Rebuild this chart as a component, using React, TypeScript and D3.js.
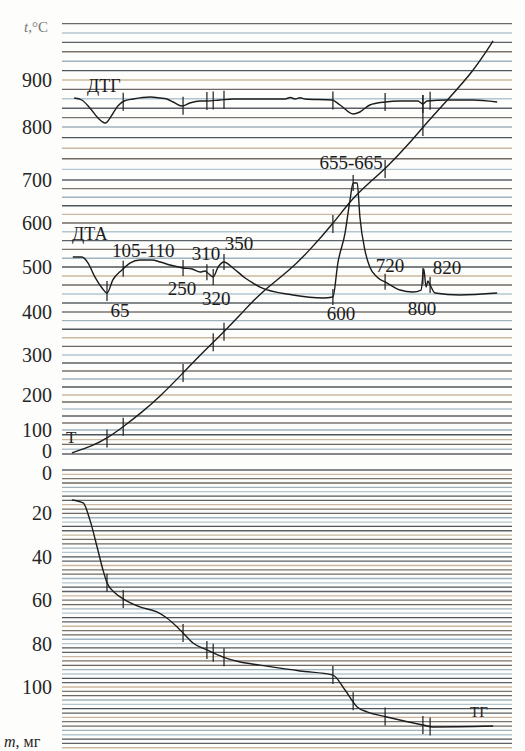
import React, { useEffect, useRef } from 'react';
import * as d3 from 'd3';

// axis ticks
const tempTicks = [0, 100, 200, 300, 400, 500, 600, 700, 800, 900];
const massTicks = [0, 20, 40, 60, 80, 100];

// thermal events (°C) and the time (min) where they are marked
const eventLabels = ['65', '105-110', '250', '310', '320', '350', '600', '655-665', '720', '800', '820'];
const eventTimes = [10, 13.6, 26.9, 32.2, 33.6, 36, 60.2, 64.7, 71.8, 80.2, 81.8];

// T curve: temperature vs time
const tTime = [2.2, 6.9, 10, 13.6, 17.5, 21.5, 26.9, 30.7, 35.8, 39.6, 44, 50.7, 55.1, 60.2, 64.4, 68.4, 72.2, 77.3, 80.2, 85.6, 91.3, 95.8];
const tTemp = [5, 35, 65, 109, 148, 192, 255, 300, 352, 393, 442, 493, 539, 598, 656, 695, 724, 770, 800, 857, 917, 983];

// DTA curve (arbitrary units)
const dtaTime = [2.4, 4.4, 5.8, 7.3, 8.9, 10, 11.3, 13.3, 15.1, 17.3, 20, 21.8, 24, 26.9, 28.9, 30.7, 31.8, 32.4, 33.6, 34.7, 36, 38, 40.7, 42.4, 44, 51.3, 58, 60.2, 61.3, 62.9, 64, 64.7, 65.6, 66.2, 67.3, 68.4, 70, 72.2, 75.1, 78, 79.8, 80.4, 80.9, 81.3, 81.8, 82.9, 88.4, 96.7];
const dtaVal = [35.8, 35.8, 30.8, 19.2, 10, 5.8, 16.7, 25, 30.8, 33.3, 33.3, 31.7, 29.2, 26.7, 25.8, 23.3, 24.2, 22.5, 19.2, 27.5, 31.7, 26.7, 18.3, 14.2, 10.8, 4.2, 1.7, 2.5, 30.8, 55.8, 83.3, 97.5, 97.5, 69.2, 41.7, 27.5, 19.2, 14.2, 8.3, 6.7, 8.3, 25.8, 10.8, 15.8, 12.5, 5.8, 4.2, 5.8];

// DTG curve (arbitrary units, downward = mass loss rate)
const dtgTime = [2.7, 4.4, 6.2, 8, 9.6, 11.1, 12.4, 13.8, 15.8, 19.6, 21.8, 23.3, 24.7, 26.7, 28.4, 30.7, 32.2, 35.1, 38, 44, 49.6, 50.7, 51.8, 52.9, 54, 60, 61.8, 64.7, 66.2, 68.4, 71.8, 75.1, 79.1, 80.2, 81.1, 85.6, 91.3, 96.7];
const dtgVal = [-0.8, 0, 3.2, 7.2, 9.2, 6, 2.4, 0.4, -0.4, -1.2, -0.8, -0.4, 0.8, 2.4, 1.2, 0.4, 0.4, 0, -0.4, -0.4, -0.4, -1, -0.4, -0.9, -0.4, 0, 2, 5.6, 4.8, 2, 0.8, 0.4, 0.4, 1.6, 0.4, 0, 0, 0.8];

// TG curve: mass loss (mg) vs time
const tgTime = [2.2, 4.7, 6.2, 7.8, 9.1, 10, 11.8, 13.6, 17.3, 21.1, 23.3, 25.6, 26.9, 29.1, 32.2, 35.8, 39.6, 44, 52.9, 60.2, 62.9, 65.6, 67.8, 72.2, 80.2, 82.4, 95.8];
const tgMass = [13.8, 15.2, 23, 35.5, 46, 52, 56.7, 59.4, 63.1, 65.4, 68.2, 72.4, 75.1, 79.7, 82.9, 86.2, 88.5, 89.9, 92.6, 94.5, 101.4, 109.2, 111.5, 113.8, 117.5, 118.4, 118];

// which events are ticked on which curve
const tEvents = [0, 1, 2, 4, 5, 6, 8, 9];
const dtaEvents = [0, 1, 2, 3, 4, 5, 6, 7, 8, 9, 10];
const dtgEvents = [1, 2, 3, 4, 5, 6, 8, 9, 10];
const tgEvents = [0, 1, 2, 3, 4, 5, 6, 7, 8, 9, 10];

const App = () => {
  const svgRef = useRef<SVGSVGElement>(null);

  useEffect(() => {
    const svg = d3.select(svgRef.current);
    svg.selectAll('*').remove();

    const width = 525;
    const height = 751;
    const left = 62;
    const right = 512;
    const font = "'Liberation Serif', Tinos, 'Times New Roman', 'DejaVu Serif', serif";
    const ink = '#1c1c1c';

    svg.attr('width', width).attr('height', height);
    svg.append('rect').attr('width', width).attr('height', height).attr('fill', '#fdfdfc');

    const x = d3.scaleLinear().domain([0, 100]).range([left, right]);
    const yT = d3.scaleLinear().domain(tempTicks).range([454, 430, 395, 355, 312, 267, 223, 180, 127, 80]);
    const yM = d3.scaleLinear().domain([0, 100]).range([470, 687]);
    const yDta = d3.scaleLinear().domain([0, 100]).range([300, 180]);
    const yDtg = d3.scaleLinear().domain([0, 10]).range([100, 125]);

    // chart paper lines
    const paper = ['#5c6166', '#b3c6d0', '#6e6862', '#cdb89f', '#4f565b', '#9fb3bf', '#7a746c'];
    const grid = svg.append('g');
    d3.range(0, 1021, 20).forEach((v, i) => {
      grid.append('line')
        .attr('x1', left).attr('x2', right)
        .attr('y1', yT(v)).attr('y2', yT(v))
        .attr('stroke', paper[i % paper.length])
        .attr('stroke-width', 1.4);
    });
    d3.range(0, 129, 2).forEach((v, i) => {
      grid.append('line')
        .attr('x1', left).attr('x2', right)
        .attr('y1', yM(v)).attr('y2', yM(v))
        .attr('stroke', paper[(i * 3) % paper.length])
        .attr('stroke-width', 1.3);
    });

    // axis labels
    const axis = svg.append('g').style('font-family', font).attr('fill', '#262626');
    tempTicks.forEach(v => {
      axis.append('text').attr('x', 52).attr('y', yT(v) + (v === 0 ? 4 : 7))
        .attr('text-anchor', 'end').attr('font-size', 20).text(v);
    });
    massTicks.forEach(v => {
      axis.append('text').attr('x', 52).attr('y', yM(v) + (v === 0 ? 10 : 7))
        .attr('text-anchor', 'end').attr('font-size', 20).text(v);
    });
    const tUnit = axis.append('text').attr('x', 48).attr('y', 32)
      .attr('text-anchor', 'end').attr('font-size', 15).attr('fill', '#777');
    tUnit.append('tspan').attr('font-style', 'italic').text('t');
    tUnit.append('tspan').text(',°C');
    const mUnit = axis.append('text').attr('x', 4).attr('y', 747).attr('font-size', 16);
    mUnit.append('tspan').attr('font-style', 'italic').text('m');
    mUnit.append('tspan').text(', мг');

    // curves
    const curves = svg.append('g').attr('fill', 'none').attr('stroke', ink).attr('stroke-width', 1.4);
    const draw = (times: number[], vals: number[], y: d3.ScaleLinear<number, number>, curve: d3.CurveFactory) => {
      const line = d3.line<number>()
        .x((_, i) => x(times[i]))
        .y(d => y(d))
        .curve(curve);
      curves.append('path').attr('d', line(vals));
    };
    draw(tTime, tTemp, yT, d3.curveBasis);
    draw(dtaTime, dtaVal, yDta, d3.curveMonotoneX);
    draw(dtgTime, dtgVal, yDtg, d3.curveMonotoneX);
    draw(tgTime, tgMass, yM, d3.curveMonotoneX);

    // event ticks on each curve
    const ticks = svg.append('g').attr('stroke', ink).attr('stroke-width', 1.2);
    const mark = (times: number[], vals: number[], y: d3.ScaleLinear<number, number>, idx: number[], half = 9) => {
      const at = d3.scaleLinear().domain(times).range(vals);
      idx.forEach(i => {
        const t = eventTimes[i];
        const cy = y(at(t));
        let top = cy - half;
        let bottom = cy + half;
        if (i === 9 && y === yT) top = yDtg(-2);
        if (i === 0 && y === yDta) { top = cy - 12; bottom = cy + 8; }
        ticks.append('line').attr('x1', x(t)).attr('x2', x(t))
          .attr('y1', top).attr('y2', bottom);
      });
    };
    mark(tTime, tTemp, yT, tEvents);
    mark(dtaTime, dtaVal, yDta, dtaEvents, 8);
    mark(dtgTime, dtgVal, yDtg, dtgEvents);
    mark(tgTime, tgMass, yM, tgEvents);

    // event labels: [dx from tick, baseline]
    const labelPos = [[13, 317], [20, 257], [-1, 295], [-1, 260], [3, 305], [15, 250], [8, 320], [-2, 169], [5, 272], [-1, 315], [17, 274]];
    const labels = svg.append('g').style('font-family', font).attr('font-size', 19).attr('fill', ink);
    eventLabels.forEach((s, i) => {
      labels.append('text')
        .attr('x', x(eventTimes[i]) + labelPos[i][0])
        .attr('y', labelPos[i][1])
        .attr('text-anchor', 'middle')
        .text(s);
    });

    // curve names
    const names = svg.append('g').style('font-family', font).attr('fill', ink);
    names.append('text').attr('x', 87).attr('y', 92).attr('font-size', 18).text('ДТГ');
    names.append('text').attr('x', 72).attr('y', 240).attr('font-size', 18).text('ДТА');
    names.append('text').attr('x', 66).attr('y', 443).attr('font-size', 17).text('Т');
    names.append('text').attr('x', 470).attr('y', 717).attr('font-size', 15).text('ТГ');
  }, []);

  return <svg ref={svgRef} style={{ position: 'absolute', left: 0, top: 0 }}></svg>;
};

export default App;
